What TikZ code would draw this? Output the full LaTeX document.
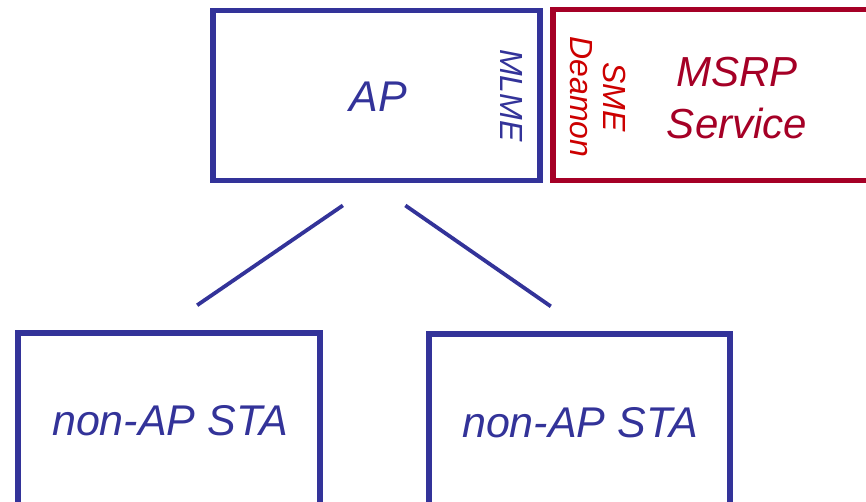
\documentclass[tikz,border=0pt]{standalone}
\usepackage{fontspec}
\setmainfont{Liberation Sans}
\usetikzlibrary{calc}
\definecolor{boxblue}{RGB}{51,51,153}
\definecolor{boxred}{RGB}{165,0,38}
\definecolor{smered}{RGB}{204,0,0}
\tikzset{
  bluebox/.style={draw=boxblue, line width=5.5pt, rectangle, inner sep=0pt},
  redbox/.style={draw=boxred, line width=5.5pt, rectangle, inner sep=0pt},
  conn/.style={draw=boxblue, line width=3.8pt},
  bigtxt/.style={font=\fontsize{43}{51}\selectfont\itshape, text=boxblue, inner sep=0pt},
  sidetxt/.style={font=\fontsize{32}{33}\selectfont\itshape, inner sep=0pt, align=center}
}
\begin{document}
\begin{tikzpicture}[x=1pt,y=-1pt]
\useasboundingbox (0,0) rectangle (866,502);
% AP
\node[bluebox, minimum width=327pt, minimum height=170pt] (ap) at (376.5,95.5) {};
\node[bigtxt, anchor=base] (aptxt) at (378,112) {AP};
\node[sidetxt, text=boxblue, rotate=-90] (mlme) at (511,95.5) {MLME};
% MSRP
\node[redbox, minimum width=327pt, minimum height=171pt] (msrp) at (716.5,95) {};
\node[sidetxt, text=smered, rotate=-90] (sme) at (598,97) {SME\\Deamon};
\node[bigtxt, text=boxred, align=center, font=\fontsize{42}{52}\selectfont\itshape] (msrptxt) at (737,98) {MSRP\\Service};
% STAs
\node[bluebox, minimum width=302pt, minimum height=172pt] (sta1) at (169,419) {};
\node[bluebox, minimum width=301pt, minimum height=172pt] (sta2) at (579.5,420) {};
\node[bigtxt, anchor=base] (sta1txt) at (170,435) {non-AP STA};
\node[bigtxt, anchor=base] (sta2txt) at (580,437) {non-AP STA};
% connectors
\draw[conn, shorten <=39.3pt, shorten >=44.3pt] ($(ap.south)+(-1.2,0)$) -- ($(sta1.north)+(-8.4,0)$);
\draw[conn, shorten <=39pt, shorten >=43.7pt] ($(ap.south)+(-3.2,0)$) -- ($(sta2.north)+(7.2,0)$);
\end{tikzpicture}
\end{document}
